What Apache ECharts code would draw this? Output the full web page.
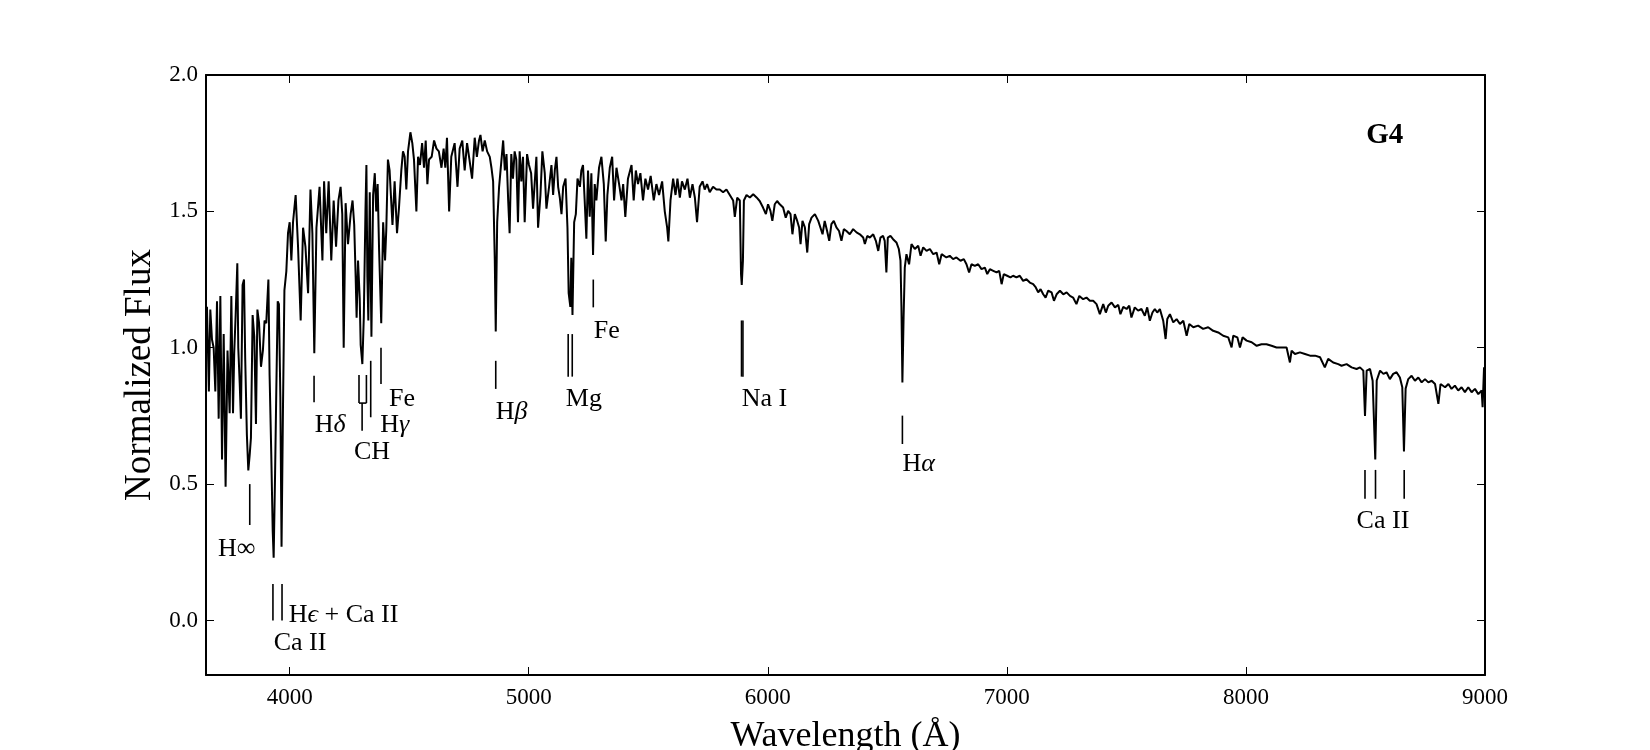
<!DOCTYPE html>
<html><head><meta charset="utf-8">
<script src="https://cdn.jsdelivr.net/npm/echarts@6/dist/echarts.min.js"></script>
<style>html,body{margin:0;padding:0;background:#fff}#c{width:1650px;height:750px}</style>
</head><body><div id="c"></div>
<script>
// G4 spectrum: [wavelength (Å), normalized flux]
const spectrumPoints = [
[3650,1.10],[3654,1.15],[3658,1.00],[3662,0.84],[3668,1.14],[3675,1.03],[3682,1.00],[3689,0.84],[3696,1.17],[3703,0.74],
[3710,1.19],[3717,0.59],[3724,1.05],[3732,0.49],[3740,0.99],[3749,0.76],[3756,1.19],[3763,0.76],[3768,0.98],[3774,1.12],
[3781,1.31],[3785,1.00],[3791,0.87],[3796,0.74],[3803,1.23],[3809,1.25],[3814,0.96],[3821,0.68],[3827,0.55],[3833,0.61],
[3838,0.67],[3845,1.12],[3852,1.04],[3859,0.72],[3865,1.14],[3872,1.09],[3880,0.93],[3888,0.99],[3895,1.10],[3902,1.09],
[3911,1.25],[3916,0.90],[3923,0.61],[3929,0.33],[3933,0.23],[3939,0.54],[3944,0.84],[3950,1.17],[3955,1.16],[3961,0.82],
[3966,0.27],[3972,0.78],[3978,1.21],[3986,1.28],[3993,1.42],[4000,1.46],[4007,1.32],[4014,1.46],[4025,1.56],[4035,1.37],
[4046,1.10],[4056,1.44],[4066,1.37],[4077,1.20],[4087,1.58],[4095,1.42],[4103,0.98],[4112,1.44],[4125,1.59],[4137,1.32],
[4144,1.61],[4153,1.42],[4163,1.61],[4174,1.32],[4184,1.54],[4194,1.37],[4204,1.54],[4213,1.59],[4220,1.49],[4226,1.00],
[4234,1.53],[4244,1.38],[4255,1.49],[4263,1.54],[4270,1.45],[4276,1.26],[4280,1.11],[4286,1.32],[4293,1.18],[4297,1.01],
[4304,0.94],[4310,1.11],[4317,1.50],[4321,1.67],[4325,1.26],[4329,1.10],[4335,1.57],[4342,1.04],[4349,1.56],[4356,1.64],
[4362,1.50],[4368,1.60],[4374,1.36],[4383,1.09],[4391,1.46],[4399,1.32],[4404,1.43],[4411,1.69],[4418,1.65],[4430,1.45],
[4439,1.61],[4449,1.42],[4457,1.51],[4467,1.65],[4474,1.72],[4481,1.70],[4488,1.58],[4495,1.72],[4505,1.79],[4513,1.75],
[4520,1.69],[4530,1.50],[4537,1.70],[4545,1.67],[4554,1.75],[4562,1.66],[4569,1.76],[4576,1.60],[4583,1.69],[4594,1.70],
[4604,1.76],[4614,1.73],[4624,1.72],[4635,1.66],[4644,1.73],[4651,1.66],[4658,1.77],[4667,1.50],[4676,1.70],[4690,1.75],
[4702,1.59],[4711,1.73],[4722,1.76],[4732,1.65],[4742,1.75],[4752,1.69],[4763,1.62],[4774,1.77],[4783,1.70],[4792,1.76],
[4798,1.78],[4807,1.72],[4816,1.76],[4826,1.72],[4837,1.70],[4844,1.66],[4851,1.61],[4858,1.32],[4862,1.06],[4868,1.46],
[4876,1.59],[4886,1.69],[4893,1.76],[4900,1.65],[4907,1.71],[4914,1.54],[4920,1.42],[4927,1.71],[4934,1.62],[4941,1.72],
[4948,1.69],[4955,1.46],[4962,1.72],[4969,1.61],[4976,1.70],[4983,1.46],[4993,1.71],[5001,1.67],[5010,1.64],[5018,1.51],
[5032,1.70],[5039,1.44],[5049,1.56],[5057,1.72],[5067,1.64],[5074,1.51],[5085,1.59],[5095,1.67],[5102,1.56],[5109,1.65],
[5116,1.70],[5123,1.59],[5130,1.55],[5137,1.49],[5144,1.59],[5154,1.62],[5162,1.44],[5167,1.20],[5174,1.15],[5178,1.33],
[5183,1.12],[5190,1.46],[5197,1.49],[5204,1.62],[5214,1.59],[5220,1.65],[5227,1.67],[5234,1.54],[5241,1.40],[5248,1.65],
[5255,1.48],[5262,1.64],[5269,1.34],[5276,1.60],[5283,1.54],[5294,1.66],[5304,1.70],[5314,1.60],[5322,1.39],[5329,1.56],
[5339,1.66],[5349,1.70],[5357,1.54],[5367,1.66],[5378,1.60],[5388,1.54],[5395,1.60],[5404,1.48],[5415,1.62],[5430,1.67],
[5439,1.54],[5448,1.65],[5457,1.60],[5467,1.64],[5478,1.54],[5488,1.62],[5499,1.58],[5510,1.63],[5523,1.54],[5534,1.60],
[5545,1.56],[5558,1.61],[5569,1.50],[5579,1.44],[5584,1.39],[5593,1.54],[5604,1.62],[5614,1.56],[5622,1.62],[5632,1.55],
[5641,1.61],[5653,1.58],[5664,1.62],[5674,1.55],[5685,1.60],[5695,1.55],[5704,1.46],[5715,1.59],[5727,1.61],[5736,1.58],
[5746,1.60],[5757,1.57],[5771,1.59],[5785,1.58],[5799,1.58],[5813,1.57],[5827,1.58],[5841,1.56],[5855,1.54],[5862,1.48],
[5872,1.55],[5883,1.54],[5888,1.27],[5891,1.23],[5896,1.32],[5900,1.54],[5911,1.56],[5925,1.551],[5939,1.563],[5953,1.551],
[5966,1.538],[5980,1.514],[5992,1.490],[6001,1.526],[6011,1.502],[6019,1.465],[6029,1.526],[6039,1.538],[6050,1.526],[6064,1.514],
[6075,1.477],[6085,1.502],[6095,1.490],[6103,1.416],[6113,1.490],[6123,1.465],[6131,1.441],[6137,1.380],[6145,1.465],[6155,1.441],
[6165,1.349],[6173,1.453],[6183,1.477],[6197,1.490],[6211,1.465],[6220,1.441],[6229,1.416],[6238,1.465],[6248,1.428],[6257,1.392],
[6266,1.453],[6276,1.465],[6287,1.441],[6298,1.428],[6308,1.392],[6318,1.435],[6329,1.428],[6343,1.416],[6357,1.435],[6371,1.423],
[6385,1.416],[6399,1.404],[6406,1.380],[6416,1.410],[6427,1.404],[6441,1.416],[6452,1.392],[6462,1.355],[6471,1.404],[6482,1.410],
[6489,1.392],[6496,1.276],[6502,1.404],[6513,1.410],[6524,1.398],[6538,1.386],[6548,1.362],[6555,1.319],[6559,1.148],[6563,0.873],
[6568,1.111],[6573,1.294],[6580,1.343],[6591,1.306],[6601,1.380],[6615,1.362],[6629,1.374],[6639,1.337],[6650,1.368],[6664,1.355],
[6678,1.362],[6692,1.343],[6706,1.349],[6717,1.306],[6727,1.343],[6747,1.331],[6761,1.337],[6775,1.325],[6789,1.331],[6806,1.319],
[6820,1.325],[6831,1.306],[6842,1.276],[6852,1.306],[6866,1.300],[6880,1.306],[6894,1.288],[6908,1.294],[6918,1.270],[6929,1.288],
[6943,1.282],[6957,1.276],[6968,1.282],[6978,1.233],[6987,1.270],[7001,1.264],[7015,1.258],[7026,1.264],[7040,1.258],[7054,1.264],
[7068,1.245],[7082,1.251],[7096,1.239],[7110,1.233],[7121,1.221],[7131,1.203],[7141,1.215],[7152,1.196],[7162,1.184],[7173,1.209],
[7187,1.203],[7197,1.172],[7208,1.196],[7222,1.209],[7236,1.196],[7250,1.203],[7264,1.190],[7277,1.184],[7291,1.160],[7303,1.190],
[7319,1.178],[7333,1.184],[7347,1.172],[7361,1.172],[7375,1.160],[7389,1.123],[7403,1.160],[7414,1.129],[7424,1.154],[7438,1.166],
[7452,1.148],[7466,1.157],[7475,1.123],[7487,1.150],[7501,1.142],[7512,1.154],[7521,1.111],[7535,1.148],[7549,1.136],[7563,1.142],
[7577,1.117],[7587,1.148],[7598,1.099],[7609,1.129],[7619,1.142],[7629,1.129],[7640,1.142],[7654,1.099],[7664,1.032],[7671,1.105],
[7682,1.123],[7696,1.093],[7710,1.105],[7724,1.087],[7738,1.099],[7752,1.044],[7763,1.087],[7780,1.075],[7800,1.081],[7821,1.069],
[7842,1.075],[7863,1.062],[7884,1.056],[7905,1.044],[7926,1.038],[7940,1.001],[7947,1.044],[7964,1.038],[7975,1.001],[7986,1.038],
[8003,1.026],[8024,1.020],[8045,1.007],[8065,1.013],[8086,1.013],[8107,1.007],[8128,1.001],[8149,1.001],[8170,1.001],[8184,0.946],
[8191,0.989],[8205,0.977],[8226,0.983],[8247,0.977],[8268,0.971],[8289,0.971],[8310,0.965],[8330,0.928],[8344,0.959],[8365,0.946],
[8386,0.940],[8400,0.934],[8421,0.940],[8442,0.928],[8463,0.922],[8477,0.928],[8491,0.916],[8498,0.75],[8505,0.916],[8519,0.922],
[8530,0.879],[8541,0.59],[8547,0.88],[8561,0.916],[8575,0.904],[8588,0.910],[8602,0.885],[8616,0.904],[8630,0.910],[8644,0.891],
[8654,0.855],[8661,0.62],[8668,0.85],[8679,0.885],[8693,0.897],[8707,0.879],[8721,0.891],[8735,0.873],[8749,0.885],[8763,0.873],
[8777,0.879],[8791,0.867],[8805,0.794],[8814,0.867],[8833,0.855],[8847,0.867],[8860,0.849],[8874,0.861],[8888,0.843],[8902,0.855],
[8916,0.837],[8930,0.855],[8944,0.837],[8958,0.849],[8972,0.830],[8986,0.843],[8990,0.782],[8996,0.928],[9000,0.855]
];
const wavelength = spectrumPoints.map(p => p[0]);
const flux = spectrumPoints.map(p => p[1]);
const xTickValues = [4000, 5000, 6000, 7000, 8000, 9000];
const yTickValues = [0.0, 0.5, 1.0, 1.5, 2.0];
// line identification markers: [x1, y1, x2, y2] in (wavelength, flux)
const markerSegments = [
  [3833, 0.50, 3833, 0.35],
  [3930, 0.134, 3930, 0.0],
  [3968, 0.134, 3968, 0.0],
  [4102, 0.897, 4102, 0.80],
  [4290, 0.90, 4290, 0.797],
  [4321, 0.90, 4321, 0.797],
  [4290, 0.797, 4321, 0.797],
  [4303, 0.797, 4303, 0.696],
  [4339, 0.952, 4339, 0.745],
  [4382, 1.0, 4382, 0.867],
  [4862, 0.952, 4862, 0.849],
  [5165, 1.05, 5165, 0.894],
  [5182, 1.05, 5182, 0.894],
  [5270, 1.25, 5270, 1.148],
  [5890, 1.10, 5890, 0.894],
  [5896, 1.10, 5896, 0.894],
  [6563, 0.751, 6563, 0.647],
  [8498, 0.552, 8498, 0.446],
  [8542, 0.552, 8542, 0.446],
  [8662, 0.552, 8662, 0.446]
];
// labels: [left wavelength, flux (vertical centre), text]
const lineLabels = [
  [3700, 0.263, 'H∞'],
  [3996, 0.018, 'H{g|ϵ} + Ca II'],
  [3933, -0.082, 'Ca II'],
  [4105, 0.715, 'H{g|δ}'],
  [4269, 0.617, 'CH'],
  [4379, 0.715, 'H{g|γ}'],
  [4416, 0.812, 'Fe'],
  [4862, 0.763, 'H{g|β}'],
  [5155, 0.812, 'Mg'],
  [5272, 1.062, 'Fe'],
  [5891, 0.812, 'Na I'],
  [6563, 0.572, 'H{g|α}'],
  [8463, 0.364, 'Ca II']
];
const typeLabel = [8581, 1.777, 'G4'];

const FONT = '"Liberation Serif", "DejaVu Serif", serif';
const chart = echarts.init(document.getElementById('c'), null, {renderer: 'canvas'});
const axisLineStyle = {color: '#000', width: 2};
const tickStyle = {color: '#000', width: 1};
const spectrum = wavelength.map((w, i) => [w, flux[i]]);

chart.setOption({
  animation: false,
  backgroundColor: '#fff',
  grid: {left: 206, right: 165, top: 75, bottom: 75, containLabel: false, outerBoundsMode: 'none'},
  xAxis: [
    {type: 'value', position: 'bottom', min: 3650, max: 9000,
     axisLine: {onZero: false, lineStyle: axisLineStyle},
     axisTick: {inside: true, length: 8, customValues: xTickValues, lineStyle: tickStyle},
     axisLabel: {customValues: xTickValues, fontSize: 23, fontFamily: FONT, color: '#000', margin: 11,
                 formatter: v => String(v)},
     splitLine: {show: false},
     name: 'Wavelength (Å)', nameLocation: 'middle', nameGap: 44,
     nameTextStyle: {fontSize: 36, fontFamily: FONT, color: '#000'}},
    {type: 'value', position: 'top', min: 3650, max: 9000,
     axisLine: {onZero: false, lineStyle: axisLineStyle},
     axisTick: {inside: true, length: 8, customValues: xTickValues, lineStyle: tickStyle},
     axisLabel: {show: false}, splitLine: {show: false}}
  ],
  yAxis: [
    {type: 'value', position: 'left', min: -0.2, max: 2.0,
     axisLine: {onZero: false, lineStyle: axisLineStyle},
     axisTick: {inside: true, length: 8, customValues: yTickValues, lineStyle: tickStyle},
     axisLabel: {customValues: yTickValues, fontSize: 23, fontFamily: FONT, color: '#000', margin: 8,
                 formatter: v => Number(v).toFixed(1)},
     splitLine: {show: false},
     name: 'Normalized Flux', nameLocation: 'middle', nameGap: 46,
     nameTextStyle: {fontSize: 37, fontFamily: FONT, color: '#000'}},
    {type: 'value', position: 'right', min: -0.2, max: 2.0,
     axisLine: {onZero: false, lineStyle: axisLineStyle},
     axisTick: {inside: true, length: 8, customValues: yTickValues, lineStyle: tickStyle},
     axisLabel: {show: false}, splitLine: {show: false}}
  ],
  series: [
    {type: 'line', data: spectrum, showSymbol: false, symbol: 'none',
     lineStyle: {color: '#000', width: 2}, z: 3},
    {type: 'custom', data: markerSegments, encode: {x: [0, 2], y: [1, 3]},
     renderItem: (params, api) => {
       const p1 = api.coord([api.value(0), api.value(1)]);
       const p2 = api.coord([api.value(2), api.value(3)]);
       return {type: 'line', shape: {x1: p1[0], y1: p1[1], x2: p2[0], y2: p2[1]},
               style: {stroke: '#000', lineWidth: 1.6}};
     }, z: 4},
    {type: 'scatter', symbolSize: 0, z: 5, itemStyle: {opacity: 1},
     data: lineLabels.map(l => ({value: [l[0], l[1]],
       label: {formatter: l[2], color: '#000', opacity: 1}})),
     label: {show: true, position: 'right', distance: 0, fontSize: 26, fontFamily: FONT, color: '#000', opacity: 1,
             rich: {g: {fontStyle: 'italic', fontSize: 26, fontFamily: FONT, color: '#000'}}}},
    {type: 'scatter', symbolSize: 0, z: 5, itemStyle: {opacity: 1},
     data: [{value: [typeLabel[0], typeLabel[1]], label: {formatter: typeLabel[2], color: '#000', opacity: 1}}],
     label: {show: true, position: 'inside', fontSize: 29, fontWeight: 'bold', fontFamily: FONT, color: '#000', opacity: 1}}
  ]
});
</script></body></html>
